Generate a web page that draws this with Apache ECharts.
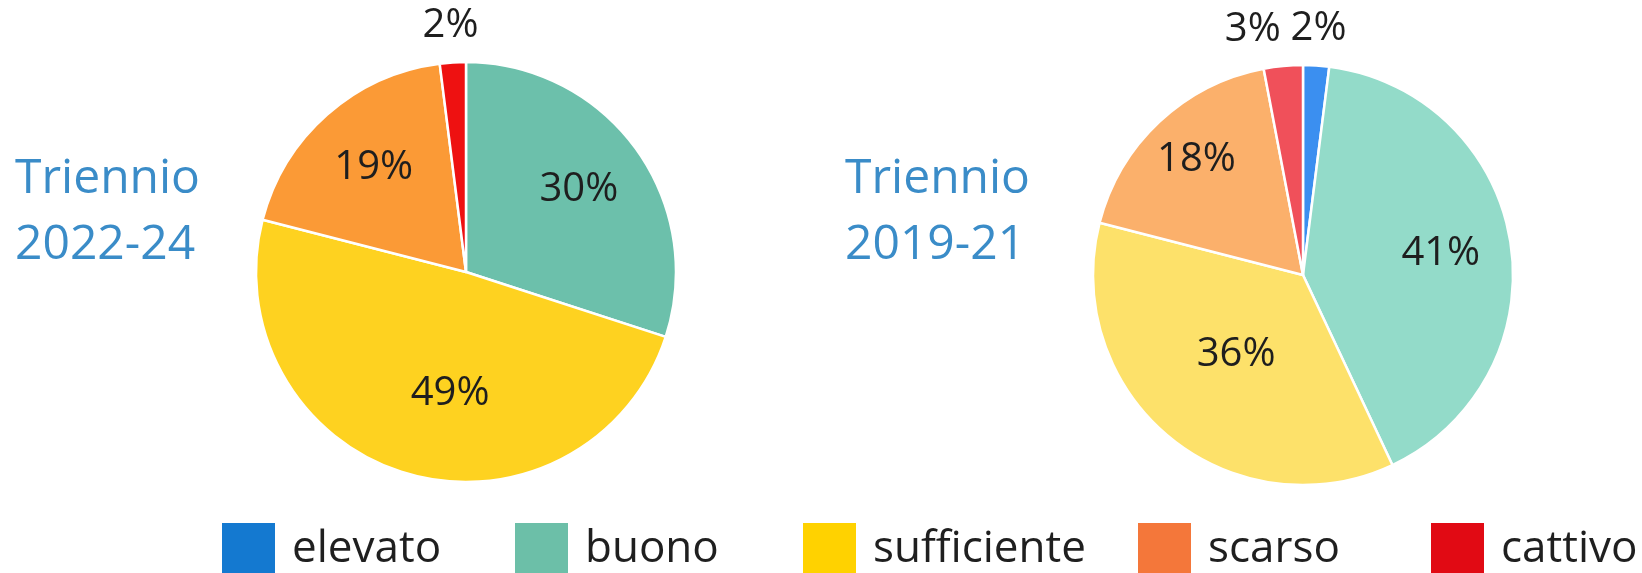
<!DOCTYPE html>
<html>
<head>
<meta charset="utf-8">
<script src="https://cdn.jsdelivr.net/npm/echarts@6/dist/echarts.min.js"></script>
<style>
  html, body { margin: 0; padding: 0; background: #fff; }
  #chart { width: 1642px; height: 573px; }
</style>
</head>
<body>
<div id="chart"></div>
<script>
// dati
const categories = ['elevato', 'buono', 'sufficiente', 'scarso', 'cattivo'];
const values2224 = [0, 30, 49, 19, 2];
const values1921 = [2, 41, 36, 18, 3];
const titles = ['Triennio\n2022-24', 'Triennio\n2019-21'];

// colori
const legendColors = ['#1479d0', '#6cbfa8', '#ffd200', '#f4773a', '#e10a14'];
const colors2224 = ['#1479d0', '#6cc0ab', '#fed220', '#fb9a36', '#ee1111'];
const colors1921 = ['#3b8ff0', '#93dbc9', '#fde16a', '#fbb06b', '#f0505a'];

const FONT = 'Open Sans';
const labelStyle = { fontFamily: FONT, fontSize: 40, color: '#1e1e1e' };

// sposta l'etichetta di (dx, dy) px usando il padding
function nudge(dx, dy) {
  return [dy > 0 ? 2 * dy : 0, dx < 0 ? -2 * dx : 0, dy < 0 ? -2 * dy : 0, dx > 0 ? 2 * dx : 0];
}

function makePies(values, colors, center, r, nudges) {
  const main = {
    type: 'pie',
    center: center,
    radius: r,
    startAngle: 90,
    silent: true,
    label: { show: false },
    labelLine: { show: false },
    itemStyle: { borderColor: '#fff', borderWidth: 2.5 },
    data: categories.map((name, i) => ({ name, value: values[i], itemStyle: { color: colors[i] } })),
  };
  // pie invisibili, usate solo per posizionare le etichette
  const ghost = (radius, test) => ({
    type: 'pie',
    center: center,
    radius: radius,
    startAngle: 90,
    silent: true,
    avoidLabelOverlap: false,
    itemStyle: { color: 'rgba(0,0,0,0)' },
    label: {
      show: true,
      position: 'inside',
      ...labelStyle,
      formatter: (p) => (p.value > 0 && test(p.value) ? `{v|${p.value}%}` : ''),
      rich: { v: labelStyle },
    },
    labelLine: { show: false },
    data: categories.map((name, i) => {
      const item = { name, value: values[i] };
      if (nudges[name] && test(values[i])) item.label = { padding: nudge(nudges[name][0], nudges[name][1]) };
      return item;
    }),
  });
  return [main, ghost(r * 1.3, (v) => v >= 10), ghost(r * 2.32, (v) => v < 10)];
}

const legendLeft = [220, 513, 801, 1136, 1429];

const chart = echarts.init(document.getElementById('chart'));
const option = {
  animation: false,
  title: titles.map((t, i) => ({
    text: t,
    left: i === 0 ? 15 : 845,
    top: 146,
    padding: 0,
    textStyle: { fontFamily: FONT, fontSize: 48, fontWeight: 'normal', color: '#3a8cc8', lineHeight: 66 },
  })),
  legend: categories.map((name, i) => ({
    data: [{ name, itemStyle: { color: legendColors[i] } }],
    left: legendLeft[i],
    top: 521,
    padding: 0,
    icon: 'rect',
    itemWidth: 55,
    itemHeight: 55,
    selectedMode: false,
    textStyle: { fontFamily: FONT, fontSize: 44, color: '#1f1f1f', padding: [0, 0, 0, 11] },
  })),
  series: [
    ...makePies(values2224, colors2224, [466, 272], 210, { sufficiente: [23, -12] }),
    ...makePies(values1921, colors1921, [1303, 275], 210, {
      sufficiente: [22, -28], scarso: [-11, -14], cattivo: [-27, 0],
    }),
  ],
};
chart.setOption(option);
</script>
</body>
</html>
